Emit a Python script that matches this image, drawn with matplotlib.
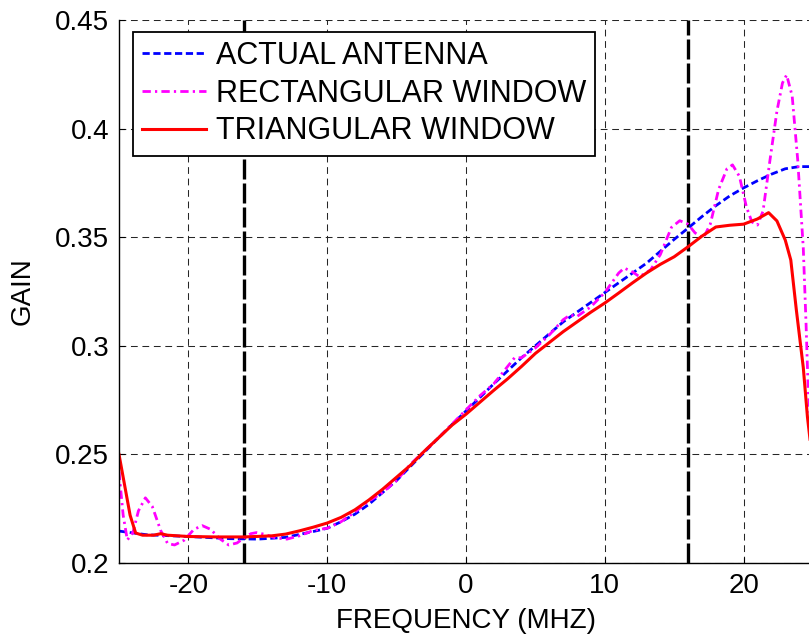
import numpy as np
import matplotlib
matplotlib.use('Agg')
import matplotlib.pyplot as plt

plt.rcParams['font.family'] = ['Liberation Sans', 'DejaVu Sans']
plt.rcParams['axes.unicode_minus'] = False

# ACTUAL ANTENNA
x_act = [-25, -23, -20, -17, -15, -13, -11, -10, -9, -8, -7, -6, -5, -4, -3, -2, -1, 0,
         1, 2, 3, 4, 5, 6, 7, 8, 9, 10, 11, 12, 13, 14, 15, 16, 17, 18, 19, 20, 21, 22, 23, 24, 25]
y_act = [0.2147, 0.2130, 0.2122, 0.2112, 0.2110, 0.2118, 0.2145, 0.2160, 0.2190, 0.2225, 0.2270,
         0.2325, 0.2380, 0.2445, 0.2510, 0.2575, 0.2638, 0.2700, 0.2762, 0.2825, 0.2885, 0.2945,
         0.3000, 0.3055, 0.3110, 0.3155, 0.3200, 0.3245, 0.3290, 0.3335, 0.3380, 0.3435, 0.3490,
         0.3542, 0.3595, 0.3645, 0.3690, 0.3727, 0.3760, 0.3790, 0.3815, 0.3825, 0.3825]

# RECTANGULAR WINDOW
x_rect = [-25, -24.7, -24.4, -24.0, -23.6, -23.1, -22.6, -22.0, -21.5, -21.0, -20.3, -19.6, -19.0,
          -18.4, -17.7, -17.1, -16.5, -16.0, -15.5, -15.1, -14.5, -13.7, -12.9, -12, -11, -10, -9,
          -8, -7, -6, -5, -4, -3, -2, -1, 0, 1, 2, 3, 3.5, 4, 5, 6, 7, 7.5, 8, 9, 10, 11, 11.4, 12,
          12.5, 13.3, 14, 14.8, 15.4, 16, 16.5, 17.1, 17.6, 18.2, 18.8, 19.2, 19.7, 20.2, 20.6, 21,
          21.4, 21.9, 22.4, 22.8, 23.1, 23.5, 23.9, 24.3, 24.5, 24.65, 25]
y_rect = [0.242, 0.222, 0.2106, 0.214, 0.224, 0.230, 0.226, 0.215, 0.209, 0.2083, 0.2105, 0.2155,
          0.2172, 0.2155, 0.211, 0.2083, 0.2092, 0.2115, 0.2135, 0.2140, 0.2132, 0.2115, 0.2110,
          0.2125, 0.2150, 0.2160, 0.2190, 0.2235, 0.2285, 0.2325, 0.2380, 0.2455, 0.2515, 0.2575,
          0.2640, 0.2705, 0.2770, 0.2825, 0.2905, 0.2945, 0.2945, 0.2990, 0.3050, 0.3120, 0.3142,
          0.3135, 0.3180, 0.3245, 0.3335, 0.3358, 0.3340, 0.3318, 0.3350, 0.3420, 0.3545, 0.3576,
          0.3560, 0.3520, 0.3496, 0.3560, 0.3720, 0.3815, 0.3833, 0.3780, 0.3640, 0.3570, 0.3556,
          0.3620, 0.3855, 0.4080, 0.4210, 0.4247, 0.4150, 0.3855, 0.3450, 0.3100, 0.2800, 0.2500]

# TRIANGULAR WINDOW
x_tri = [-25, -24.6, -24.2, -23.8, -23.3, -22.5, -22, -21.5, -20, -18, -16, -14, -13, -12, -11,
         -10, -9, -8, -7, -6, -5, -4, -3, -2, -1, 0, 1, 2, 3, 4, 5, 6, 7, 8, 9, 10, 11, 12, 13,
         14, 15, 16, 17, 18, 19, 20, 21, 21.8, 22.4, 23, 23.4, 23.8, 24.3, 24.6, 25]
y_tri = [0.2500, 0.2360, 0.2220, 0.2138, 0.2128, 0.2128, 0.2135, 0.2128, 0.2122, 0.2120, 0.2120,
         0.2125, 0.2133, 0.2148, 0.2165, 0.2184, 0.2210, 0.2245, 0.2290, 0.2340, 0.2395, 0.2450,
         0.2515, 0.2575, 0.2635, 0.2685, 0.2740, 0.2795, 0.2848, 0.2905, 0.2965, 0.3015, 0.3065,
         0.3110, 0.3155, 0.3197, 0.3243, 0.3290, 0.3335, 0.3375, 0.3410, 0.3456, 0.3505, 0.3547,
         0.3555, 0.3560, 0.3584, 0.3613, 0.3575, 0.3487, 0.3395, 0.3165, 0.2900, 0.2672, 0.2450]

band_edges = [-16, 16]
x_ticks = [-20, -10, 0, 10, 20]
y_ticks = [0.2, 0.25, 0.3, 0.35, 0.4, 0.45]
y_ticklabels = ['0.2', '0.25', '0.3', '0.35', '0.4', '0.45']

fig = plt.figure(figsize=(8.09, 6.39), dpi=100)
fig.set_facecolor('white')
ax = fig.add_axes([119/809, 76/639, 694/809, 543/639])

ax.plot(x_act, y_act, color='#0000ff', lw=2, ls=(0, (2.6, 1.3)), label='ACTUAL ANTENNA')
ax.plot(x_rect, y_rect, color='#ff00ff', lw=2, ls=(0, (3, 1.5, 0.8, 1.5)), label='RECTANGULAR WINDOW')
ax.plot(x_tri, y_tri, color='#ff0000', lw=2.2, ls='-', label='TRIANGULAR WINDOW')

for xb in band_edges:
    ax.axvline(xb, color='black', lw=2.4, ls=(0, (6, 1.2)), zorder=1)

ax.set_xlim(-25, 25)
ax.set_ylim(0.2, 0.45)
ax.set_xticks(x_ticks)
ax.set_yticks(y_ticks)
ax.set_yticklabels(y_ticklabels)
ax.grid(True, color='0.15', lw=0.75, ls=(0, (6.5, 4.5)))
ax.set_axisbelow(True)
ax.spines['top'].set_visible(False)
ax.spines['right'].set_visible(False)
for s in ('left', 'bottom'):
    ax.spines[s].set_linewidth(1.0)
ax.tick_params(direction='in', length=4, width=0.8, labelsize=20, pad=7)

ax.set_xlabel('FREQUENCY (MHZ)', fontsize=20, labelpad=7)
ax.set_ylabel('GAIN', fontsize=20, labelpad=14)

leg = ax.legend(loc='upper left', bbox_to_anchor=(14/694, 1 - 12/543), borderaxespad=0,
                fontsize=22, fancybox=False, framealpha=1, edgecolor='black',
                handlelength=2.1, handletextpad=0.3, labelspacing=0.25, borderpad=0.3)
leg.get_frame().set_linewidth(1.3)

fig.savefig('out.png', dpi=100, facecolor='white')
